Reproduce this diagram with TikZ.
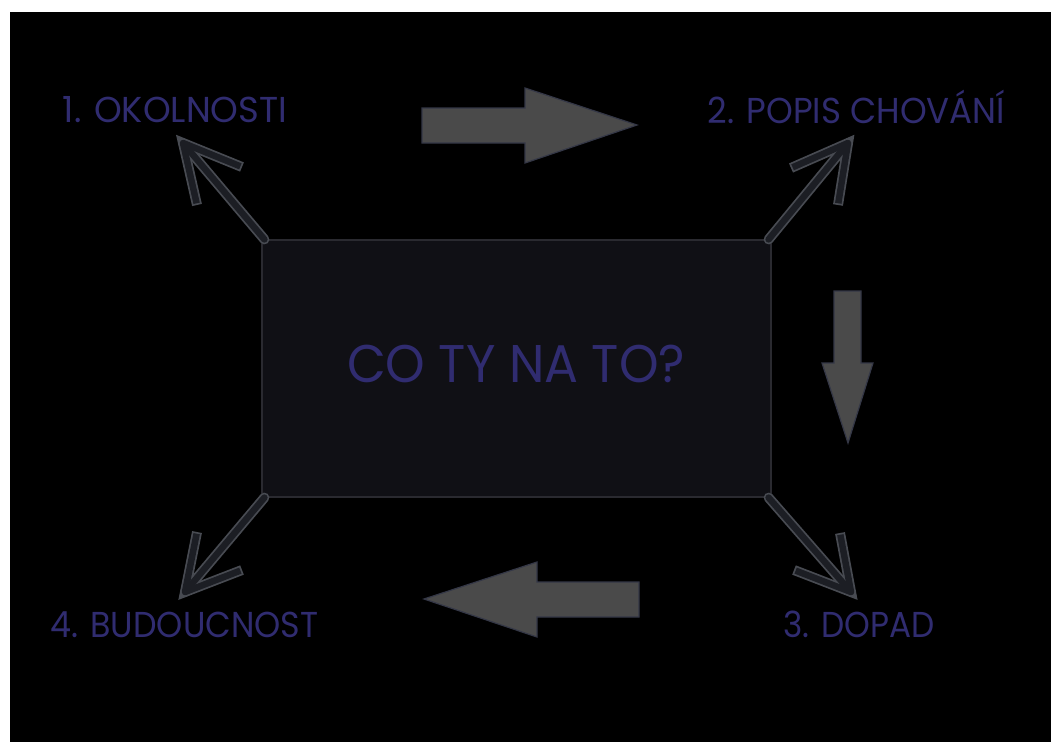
\documentclass[tikz,border=0pt]{standalone}
\usepackage{fontspec}
\setmainfont{Poppins}
\definecolor{txt}{RGB}{48,44,112}
\definecolor{boxfill}{RGB}{16,16,21}
\definecolor{boxline}{RGB}{42,42,48}
\definecolor{blkfill}{RGB}{74,74,74}
\definecolor{blkline}{RGB}{52,55,70}
\definecolor{arrout}{RGB}{72,75,82}
\definecolor{arrin}{RGB}{28,30,36}
\begin{document}
\begin{tikzpicture}[x=1pt,y=-1pt,
  lbl/.style={text=txt, font=\fontsize{36}{40}\selectfont, anchor=base, inner sep=0pt, transform shape},
  bigtxt/.style={text=txt, font=\fontsize{53}{58}\selectfont, anchor=base, inner sep=0pt, transform shape},
  blk/.style={fill=blkfill, draw=blkline, line width=1.2pt, line join=miter},
  outerln/.style={draw=arrout, line width=10pt, line cap=round, line join=miter},
  innerln/.style={draw=arrin, line width=6.5pt, line cap=round, line join=miter},
  outerhd/.style={draw=arrout, line width=10pt, line cap=butt, line join=miter},
  innerhd/.style={draw=arrin, line width=6.5pt, line cap=butt, line join=miter, shorten <=1.75pt}]
\useasboundingbox (0,0) rectangle (1051,742);
\fill[white] (0,0) rectangle (1051,742);
\fill[black] (10,12) rectangle (1051,742);
% central box
\node[draw=boxline, fill=boxfill, line width=1.2pt, minimum width=509pt, minimum height=257pt, inner sep=0pt] (c) at (516.5,368.5) {};
\node[bigtxt, xscale=0.95] (q) at (516,382) {CO TY NA TO?};
% labels
\node[lbl, xscale=0.98] (l1) at (175,122) {1. OKOLNOSTI};
\node[lbl, xscale=0.945] (l2) at (856.5,123) {2. POPIS CHOVÁNÍ};
\node[lbl, xscale=0.91] (l3) at (859,637) {3. DOPAD};
\node[lbl, xscale=0.925] (l4) at (184.5,637) {4. BUDOUCNOST};
% line arrow tips and arms
\coordinate (t1) at (183,143); \coordinate (a1) at (242,167); \coordinate (b1) at (197,205);
\coordinate (t2) at (848,143); \coordinate (a2) at (791,168); \coordinate (b2) at (838,205);
\coordinate (t3) at (851,592); \coordinate (a3) at (840,533); \coordinate (b3) at (794,570);
\coordinate (t4) at (185,592); \coordinate (a4) at (197,532); \coordinate (b4) at (242,570);
\coordinate (s1) at ([shift={(3,0)}]c.north west);
\coordinate (s2) at ([shift={(-3,0)}]c.north east);
\coordinate (s3) at ([shift={(-3,0)}]c.south east);
\coordinate (s4) at ([shift={(3,0)}]c.south west);
\foreach \i in {1,2,3,4} {
  \path[outerln] (s\i) -- (t\i);
  \path[outerhd] (a\i) -- (t\i) -- (b\i);
}
\foreach \i in {1,2,3,4} {
  \path[innerln] (s\i) -- (t\i);
  \path[innerhd] (a\i) -- (t\i);
  \path[innerhd] (b\i) -- (t\i);
}
% block arrows
\path[blk] (422,108) -- (525,108) -- (525,88) -- (637,125) -- (525,163) -- (525,143) -- (422,143) -- cycle;
\path[blk] (834,291) -- (861,291) -- (861,363) -- (873,363) -- (848,443) -- (822,363) -- (834,363) -- cycle;
\path[blk] (639,582) -- (537,582) -- (537,562) -- (424,599) -- (537,637) -- (537,617) -- (639,617) -- cycle;
\end{tikzpicture}
\end{document}
